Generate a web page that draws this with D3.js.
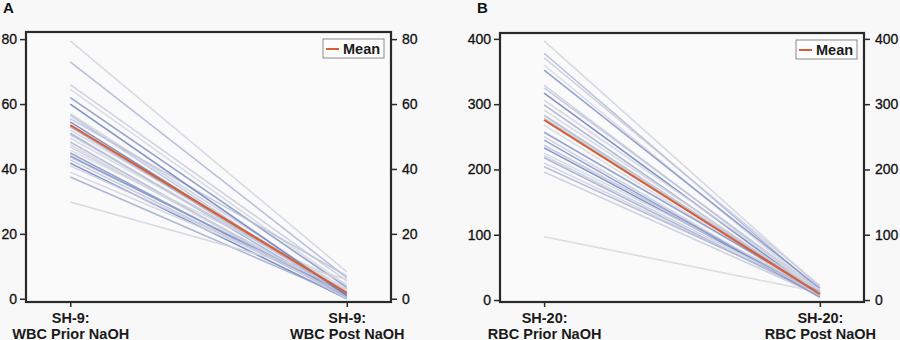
<!DOCTYPE html>
<html>
<head>
<meta charset="utf-8">
<script src="https://cdn.jsdelivr.net/npm/d3@7"></script>
<style>
  body { margin: 0; background: #f8f8f8; }
  svg { display: block; font-family: 'Liberation Sans', Arial, Helvetica, sans-serif; }
</style>
</head>
<body>
<svg id="chart" width="900" height="340"></svg>
<script>
// categories (two-line tick labels)
var wbcCategories = ['SH-9:|WBC Prior NaOH', 'SH-9:|WBC Post NaOH']
var rbcCategories = ['SH-20:|RBC Prior NaOH', 'SH-20:|RBC Post NaOH']

// SH-9 white blood cells, one value per sample
var wbcPrior = [79.5, 73, 66, 64.5, 62, 57, 55.5, 54.5, 52, 51, 49.5, 48.3, 46.8, 45.8,
  44.9, 43.7, 42.8, 41.8, 39, 37.5, 29.8, 53, 50.5, 47.5, 44, 41, 56.5, 60]
var wbcPost = [8.3, 6.5, 5.5, 4, 3.5, 2, 7, 1, 3, 0.5, 2.5, 0, 1.5, 4.5,
  0.5, 2, 1, 0, 3, 0.5, 6, 1, 2, 0, 1.5, 2.5, 0.5, 1]
var wbcMean = [53.5, 1.8]

// SH-20 red blood cells
var rbcPrior = [397, 378, 371, 360, 352, 329, 325, 317, 306, 299, 291, 283, 279, 268,
  257, 250, 237, 233, 225, 218, 210, 204, 196, 97, 245, 221]
var rbcPost = [20, 15, 22, 12, 18, 10, 14, 8, 16, 6, 11, 9, 13, 7,
  12, 5, 10, 8, 15, 6, 9, 11, 7, 12, 4, 10]
var rbcMean = [276, 9]

var wbcTicks = [0, 20, 40, 60, 80]
var rbcTicks = [0, 100, 200, 300, 400]

// mostly pale grey-blue, a few stronger blues
var shade = d3.scaleOrdinal([
  '#cfd2dc', '#a8b3d5', '#c3c9dc', '#d3d5de', '#7d8fc6',
  '#c8cddd', '#b9c0da', '#6478ba', '#d0d3df', '#9aa7d1'
])

var svg = d3.select('#chart')

function drawPanel (opts) {
  var left = opts.left
  var right = opts.right
  var top = opts.top
  var bottom = 302

  var x = d3.scalePoint()
    .domain(opts.categories)
    .range([left, right])
    .padding(0.16)

  var y = d3.scaleLinear()
    .domain(opts.domain)
    .range([bottom, top])

  var g = svg.append('g')

  // panel letter
  g.append('text')
    .attr('x', opts.letterX)
    .attr('y', 13)
    .attr('font-size', 15)
    .attr('font-weight', 'bold')
    .attr('fill', '#111')
    .text(opts.letter)

  g.append('rect')
    .attr('x', left)
    .attr('y', top)
    .attr('width', right - left)
    .attr('height', bottom - top)
    .attr('fill', '#fafafa')

  var samples = d3.range(opts.prior.length).map(function (i) {
    return [opts.prior[i], opts.post[i]]
  })

  var line = d3.line()
    .x(function (d, i) { return x(opts.categories[i]) })
    .y(function (d) { return y(d) })

  g.append('g')
    .selectAll('path')
    .data(samples)
    .join('path')
    .attr('d', line)
    .attr('fill', 'none')
    .attr('stroke', function (d, i) { return shade(i) })
    .attr('stroke-opacity', 0.8)
    .attr('stroke-width', 1.6)

  g.append('path')
    .attr('d', line(opts.mean))
    .attr('fill', 'none')
    .attr('stroke', '#d4603a')
    .attr('stroke-width', 2.2)

  // frame
  g.append('rect')
    .attr('x', left)
    .attr('y', top)
    .attr('width', right - left)
    .attr('height', bottom - top)
    .attr('fill', 'none')
    .attr('stroke', '#2a2a2a')
    .attr('stroke-width', 2.2)

  var styleAxis = function (sel) {
    sel.select('.domain').remove()
    sel.selectAll('.tick line').attr('stroke', '#2a2a2a').attr('stroke-width', 1.5)
    sel.selectAll('.tick text')
      .attr('font-size', 14)
      .attr('fill', '#111')
      .attr('stroke', '#111')
      .attr('stroke-width', 0.3)
      .attr('font-family', null)
  }

  g.append('g')
    .attr('transform', 'translate(' + left + ',0)')
    .call(d3.axisLeft(y).tickValues(opts.ticks).tickSize(6).tickPadding(3))
    .call(styleAxis)

  g.append('g')
    .attr('transform', 'translate(' + right + ',0)')
    .call(d3.axisRight(y).tickValues(opts.ticks).tickSize(6).tickPadding(5))
    .call(styleAxis)

  var xAxis = g.append('g')
    .attr('transform', 'translate(0,' + bottom + ')')
    .call(d3.axisBottom(x).tickSize(5).tickFormat(''))
    .call(styleAxis)

  xAxis.selectAll('.tick text').remove()
  xAxis.selectAll('.tick').each(function (d) {
    var parts = d.split('|')
    var t = d3.select(this).append('text')
      .attr('text-anchor', 'middle')
      .attr('font-size', 14.5)
      .attr('font-weight', 'bold')
      .attr('fill', '#1a1a1a')
    t.append('tspan').attr('x', 0).attr('y', 21).text(parts[0])
    t.append('tspan').attr('x', 0).attr('y', 36.5).text(parts[1])
  })

  // legend
  var lg = g.append('g')
    .attr('transform', 'translate(' + (right - 68) + ',' + (top + 7) + ')')
  lg.append('rect')
    .attr('width', 61)
    .attr('height', 19)
    .attr('fill', '#fdfdfd')
    .attr('stroke', '#8a8a8a')
    .attr('stroke-width', 1)
  lg.append('line')
    .attr('x1', 3).attr('x2', 16)
    .attr('y1', 10).attr('y2', 10)
    .attr('stroke', '#d4603a')
    .attr('stroke-width', 2)
  lg.append('text')
    .attr('x', 20)
    .attr('y', 15)
    .attr('font-size', 14.5)
    .attr('font-weight', 'bold')
    .attr('fill', '#1a1a1a')
    .text('Mean')
}

drawPanel({
  letter: 'A', letterX: 3, left: 26, right: 391, top: 32,
  categories: wbcCategories, prior: wbcPrior, post: wbcPost, mean: wbcMean,
  domain: [-1, 82.2], ticks: wbcTicks
})

drawPanel({
  letter: 'B', letterX: 477, left: 500, right: 864, top: 33,
  categories: rbcCategories, prior: rbcPrior, post: rbcPost, mean: rbcMean,
  domain: [-3, 409], ticks: rbcTicks
})
</script>
</body>
</html>
